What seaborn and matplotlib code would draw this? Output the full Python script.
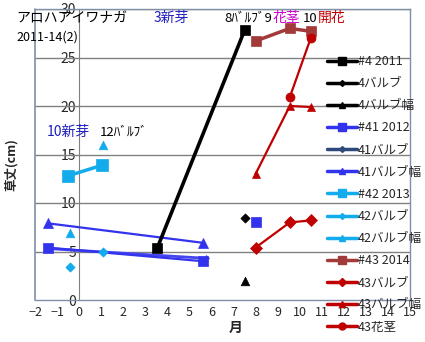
import numpy as np
import pandas as pd
import matplotlib
matplotlib.use("Agg")
import matplotlib.pyplot as plt
from matplotlib.lines import Line2D
import seaborn as sns

# ---- data ----
s4_2011_x = [3.55, 7.5]
s4_2011_y = [5.4, 27.8]
s4_bulb_x = [7.5]
s4_bulb_y = [8.5]
s4_width_x = [7.5]
s4_width_y = [2.0]

s41_2012_x = [-1.4, 5.6]
s41_2012_y = [5.4, 4.0]
s41_2012_extra_x = [8.0]
s41_2012_extra_y = [8.0]
s41_bulb_x = [-1.4, 5.75]
s41_bulb_y = [5.3, 4.3]
s41_width_x = [-1.4, 5.6]
s41_width_y = [7.9, 5.9]

s42_2013_x = [-0.5, 1.05]
s42_2013_y = [12.8, 13.9]
s42_bulb_x = [-0.4, 1.1]
s42_bulb_y = [3.4, 5.0]
s42_width_x = [-0.4, 1.1]
s42_width_y = [6.9, 16.0]

s43_2014_x = [8.0, 9.55, 10.5]
s43_2014_y = [26.7, 28.0, 27.7]
s43_bulb_x = [8.0, 9.55, 10.5]
s43_bulb_y = [5.4, 8.0, 8.2]
s43_width_x = [8.0, 9.55, 10.5]
s43_width_y = [13.0, 20.0, 19.9]
s43_stem_x = [9.55, 10.5]
s43_stem_y = [20.9, 27.0]

x_ticks = list(range(-2, 16))
y_ticks = [0, 5, 10, 15, 20, 25, 30]

legend_labels = ["#4 2011", "4バルブ", "4バルブ幅", "#41 2012", "41バルブ", "41バルブ幅",
                 "#42 2013", "42バルブ", "42バルブ幅", "#43 2014", "43バルブ", "43バルブ幅", "43花茎"]

# ---- style ----
sns.set_style("white")
plt.rcParams['font.family'] = ['Noto Sans CJK JP', 'DejaVu Sans']

W, H = 425, 342
fig = plt.figure(figsize=(W / 100, H / 100), dpi=100)
ax = fig.add_axes([35 / W, 1 - 300 / H, (410 - 35) / W, (300 - 9) / H])

BLACK = "#000000"
BLUE = "#3333EE"
NAVY = "#2E4A7A"
LBLUE = "#12ABEB"
BROWN = "#A33A3A"
RED = "#C00000"


def line(xs, ys, color, marker, ms, lw, mec=None):
    df = pd.DataFrame({"x": xs, "y": ys})
    sns.lineplot(data=df, x="x", y="y", ax=ax, color=color, lw=lw, sort=False,
                 marker=marker, markersize=ms, markeredgecolor=mec or color,
                 markeredgewidth=0.5, legend=False, zorder=3)


def pts(xs, ys, color, marker, s):
    df = pd.DataFrame({"x": xs, "y": ys})
    sns.scatterplot(data=df, x="x", y="y", ax=ax, color=color, marker=marker, s=s,
                    edgecolor=color, linewidth=0.5, legend=False, zorder=3)


line(s41_bulb_x, s41_bulb_y, "#4545F0", "D", 3, 2.0)
line(s41_2012_x, s41_2012_y, BLUE, "s", 6.5, 1.6)
pts(s41_2012_extra_x, s41_2012_extra_y, BLUE, "s", 42)
line(s41_width_x, s41_width_y, BLUE, "^", 6.5, 1.6)
line(s42_2013_x, s42_2013_y, LBLUE, "s", 8, 2.5)
pts(s42_bulb_x, s42_bulb_y, LBLUE, "D", 22)
pts(s42_width_x, s42_width_y, LBLUE, "^", 38)
line(s4_2011_x, s4_2011_y, BLACK, "s", 6.5, 2.6)
pts(s4_bulb_x, s4_bulb_y, BLACK, "D", 22)
pts(s4_width_x, s4_width_y, BLACK, "^", 38)
line(s43_2014_x, s43_2014_y, BROWN, "s", 7.5, 2.5)
line(s43_bulb_x, s43_bulb_y, RED, "D", 6, 1.6)
line(s43_width_x, s43_width_y, RED, "^", 6, 1.6)
line(s43_stem_x, s43_stem_y, RED, "o", 6.5, 1.6)

ax.set_xlim(-2, 15)
ax.set_ylim(0, 30)
ax.set_xticks(x_ticks)
ax.set_yticks(y_ticks)
ax.set_xticklabels([f"{t}".replace("-", "\u2212") for t in x_ticks], fontsize=9)
ax.set_yticklabels([str(t) for t in y_ticks], fontsize=9)
ax.set_xlabel("")
ax.set_ylabel("")
ax.grid(False)
for yv in y_ticks[1:]:
    ax.axhline(yv, color="#808080", lw=1.0, zorder=1)
for side in ["top", "right", "bottom"]:
    ax.spines[side].set_color("#7F8FA6")
    ax.spines[side].set_linewidth(1.0)
ax.spines['left'].set_position(('data', 0))
ax.spines['left'].set_color("#808080")
ax.axvline(-2, color="#7F8FA6", lw=1.2, clip_on=False, zorder=1)
ax.tick_params(axis='y', length=0, pad=2)
ax.tick_params(axis='x', length=3, color="#808080", direction="out", pad=1)

# ---- legend ----
handles = [
    Line2D([], [], color=BLACK, lw=2.5, marker="s", ms=6),
    Line2D([], [], color=BLACK, lw=2.5, marker="D", ms=3),
    Line2D([], [], color=BLACK, lw=2.5, marker="^", ms=5),
    Line2D([], [], color=BLUE, lw=2.5, marker="s", ms=6),
    Line2D([], [], color=NAVY, lw=2.5, marker="D", ms=3),
    Line2D([], [], color=BLUE, lw=2.5, marker="^", ms=5),
    Line2D([], [], color=LBLUE, lw=2.5, marker="s", ms=6),
    Line2D([], [], color=LBLUE, lw=2.5, marker="D", ms=3),
    Line2D([], [], color=LBLUE, lw=2.5, marker="^", ms=5),
    Line2D([], [], color=BROWN, lw=2.5, marker="s", ms=6),
    Line2D([], [], color=RED, lw=2.5, marker="D", ms=4),
    Line2D([], [], color=RED, lw=2.5, marker="^", ms=5),
    Line2D([], [], color=RED, lw=2.5, marker="o", ms=5),
]
fig.legend(handles, legend_labels, loc="upper left", bbox_to_anchor=(327 / W, 1 - 55 / H),
           frameon=False, fontsize=9, handlelength=2.4, handletextpad=0.1,
           labelspacing=0.73, borderpad=0, borderaxespad=0)

# ---- texts ----
def px(x, y, s, color="black", size=9.5, **kw):
    fig.text(x / W, 1 - y / H, s, color=color, fontsize=size, va="center", ha="left", **kw)

px(16, 18, "アロハアイワナガ", size=10)
px(16, 37, "2011-14(2)", size=9)
px(154, 18, "3新芽", color="#1F1FBF", size=10)
px(224, 18, "8ﾊﾞﾙﾌﾞ9", size=9.5)
px(273, 18, "花茎", color="#CC00CC", size=10)
px(303, 18, "10", size=9.5)
px(318, 18, "開花", color=RED, size=10)
px(47, 132, "10新芽", color="#1F1FBF", size=10)
px(100, 132, "12ﾊﾞﾙﾌﾞ", size=9.5)

fig.text(11 / W, 1 - 165 / H, "草丈(cm)", rotation=90, fontsize=9, fontweight="bold",
         ha="center", va="center")
fig.text(236 / W, 1 - 328 / H, "月", fontsize=10, fontweight="bold", ha="center", va="center")

fig.savefig("out.png", dpi=100)
